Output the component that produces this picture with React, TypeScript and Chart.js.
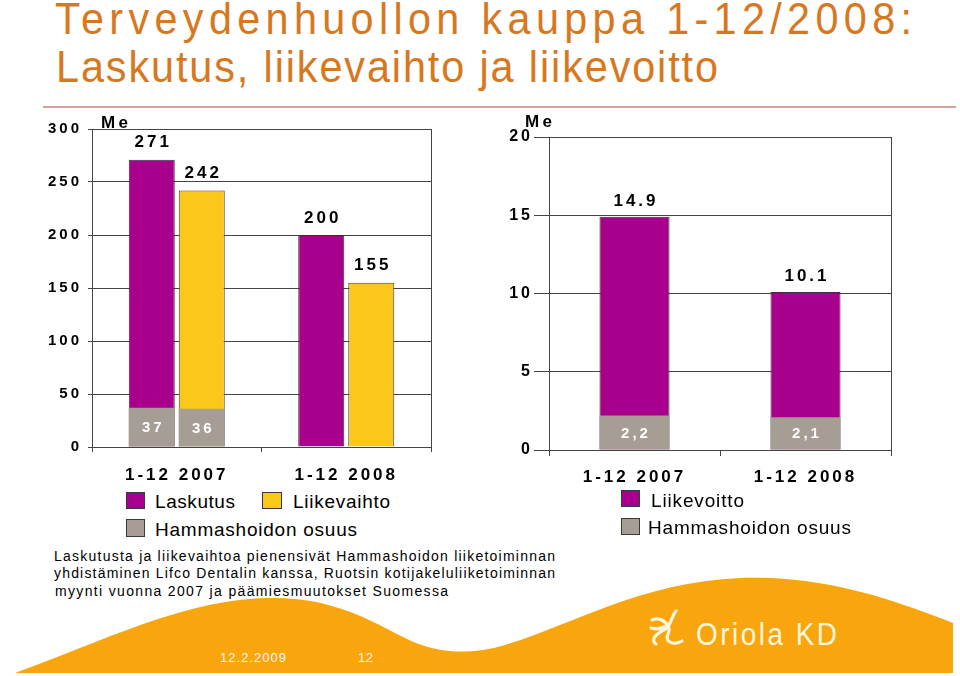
import React, { useEffect, useRef } from "react";
import { Chart, registerables } from "chart.js";

Chart.register(...registerables);

const FONT = '"Liberation Sans", Arial, Helvetica, sans-serif';
Chart.defaults.font.family = FONT;

// ---------- data ----------
const leftCategories = ["1-12 2007", "1-12 2008"];
const laskutus = [271, 200];
const liikevaihto = [242, 155];
const hammasLaskutus = [37, null];
const hammasLiikevaihto = [36, null];
const leftScale = { min: 0, max: 300, step: 50 };

const rightCategories = ["1-12 2007", "1-12 2008"];
const liikevoitto = [14.9, 10.1];
const hammasLiikevoitto = [2.2, 2.1];
const rightScale = { min: 0, max: 20, step: 5 };

// ---------- styles ----------
const MAGENTA = "#A8008D";
const YELLOW = "#FCC71B";
const GRAY = "#A69D94";
const LINE = "#444444";
const TITLE = "#D7781F";
const ORANGE = "#F9A50D";

let mctx: CanvasRenderingContext2D | null = null;
function measure(text: string, size: number, weight: number | string, family: string) {
  if (!mctx) mctx = document.createElement("canvas").getContext("2d");
  mctx!.font = `${weight} ${size}px ${family}`;
  return mctx!.measureText(text).width;
}

function Txt(props: {
  x: number;
  cy: number;
  w?: number;
  size: number;
  weight?: number;
  color?: string;
  family?: string;
  sx?: number;
  text: string;
}) {
  const { x, cy, w, size, weight = 400, color = "#000", family = FONT, sx = 1, text } = props;
  let ls = 0;
  if (w) {
    const nat = measure(text, size, weight, family);
    ls = (w / sx - nat) / Math.max(1, text.length - 1);
  }
  return (
    <div
      style={{
        position: "absolute",
        left: x,
        top: cy - size * 0.488,
        fontSize: size,
        lineHeight: `${size}px`,
        fontWeight: weight,
        fontFamily: family,
        color,
        letterSpacing: `${ls}px`,
        whiteSpace: "nowrap",
        transform: sx !== 1 ? `scaleX(${sx})` : undefined,
        transformOrigin: "0 0",
      }}
    >
      {text}
    </div>
  );
}

function Swatch({ x, y, w, h, color }: { x: number; y: number; w: number; h: number; color: string }) {
  return (
    <div
      style={{
        position: "absolute",
        left: x,
        top: y,
        width: w,
        height: h,
        background: color,
        border: "1px solid #3a3a3a",
        boxSizing: "border-box",
      }}
    />
  );
}

// ---------- plugins ----------
const framePlugin = {
  id: "frame",
  beforeDraw(chart: any) {
    chart.ctx.letterSpacing = "3px";
  },
  beforeDatasetsDraw(chart: any) {
    const { ctx, chartArea: a } = chart;
    ctx.save();
    ctx.strokeStyle = LINE;
    ctx.lineWidth = 1;
    const x = Math.round(a.right) + 0.5;
    ctx.beginPath();
    ctx.moveTo(x, a.top);
    ctx.lineTo(x, a.bottom);
    ctx.stroke();
    ctx.restore();
  },
};

const valueLabels = {
  id: "valueLabels",
  afterDatasetsDraw(chart: any) {
    const ctx = chart.ctx;
    chart.data.datasets.forEach((ds: any, i: number) => {
      const meta = chart.getDatasetMeta(i);
      meta.data.forEach((el: any, j: number) => {
        const v = ds.data[j];
        if (v == null) return;
        const { x, y, base } = el.getProps(["x", "y", "base"], true);
        const txt = ds.fmt ? ds.fmt(v) : String(v);
        ctx.save();
        ctx.letterSpacing = "3px";
        ctx.textAlign = "center";
        ctx.textBaseline = "middle";
        if (ds.labelInside) {
          ctx.fillStyle = "#ffffff";
          ctx.font = `bold 15px ${FONT}`;
          ctx.fillText(txt, x + 1.5, (y + base) / 2 + 1);
        } else {
          ctx.fillStyle = "#000000";
          ctx.font = `bold 17px ${FONT}`;
          ctx.fillText(txt, x + 1.5, y - ds.labelGap);
        }
        ctx.restore();
      });
    });
  },
};

function baseOptions(opts: {
  padTop: number;
  padRight: number;
  yWidth: number;
  xHeight: number;
  yTick: number;
  yPad: number;
  xTick: number;
  xPad: number;
  yFont: number;
  scale: { min: number; max: number; step: number };
  cat: number;
  bar: number;
}) {
  return {
    animation: false,
    responsive: false,
    maintainAspectRatio: false,
    layout: { padding: { top: opts.padTop, right: opts.padRight, left: 0, bottom: 0 } },
    datasets: { bar: { categoryPercentage: opts.cat, barPercentage: opts.bar } },
    plugins: { legend: { display: false }, tooltip: { enabled: false } },
    scales: {
      x: {
        stacked: true,
        grid: {
          drawOnChartArea: false,
          drawTicks: true,
          tickLength: opts.xTick,
          color: LINE,
          offset: true,
        },
        border: { color: LINE, width: 1 },
        ticks: { color: "#000", font: { size: 17, weight: "bold" }, padding: opts.xPad },
        afterFit(s: any) {
          s.height = opts.xHeight;
        },
      },
      y: {
        stacked: false,
        min: opts.scale.min,
        max: opts.scale.max,
        ticks: {
          stepSize: opts.scale.step,
          color: "#000",
          font: { size: opts.yFont, weight: "bold" },
          padding: opts.yPad,
        },
        grid: { color: LINE, tickLength: opts.yTick, lineWidth: 1 },
        border: { color: LINE, width: 1 },
        afterFit(s: any) {
          s.width = opts.yWidth;
        },
      },
    },
  };
}

function leftConfig(): any {
  return {
    type: "bar",
    data: {
      labels: leftCategories,
      datasets: [
        { label: "Hammashoidon osuus", data: hammasLaskutus, stack: "L", backgroundColor: GRAY, borderWidth: 0, labelInside: true },
        { label: "Hammashoidon osuus", data: hammasLiikevaihto, stack: "V", backgroundColor: GRAY, borderWidth: 0, labelInside: true },
        { label: "Laskutus", data: laskutus, stack: "L", backgroundColor: MAGENTA, borderColor: "#3d2a3a", borderWidth: 1, labelGap: 17 },
        { label: "Liikevaihto", data: liikevaihto, stack: "V", backgroundColor: YELLOW, borderColor: "#4a4030", borderWidth: 1, labelGap: 17 },
      ],
    },
    options: baseOptions({
      padTop: 19,
      padRight: 19,
      yWidth: 92,
      xHeight: 43,
      yTick: 4,
      yPad: 6,
      xTick: 5,
      xPad: 13,
      yFont: 15,
      scale: leftScale,
      cat: 0.59,
      bar: 0.92,
    }),
    plugins: [framePlugin, valueLabels],
  };
}

function rightConfig(): any {
  const comma = (v: number) => v.toFixed(1).replace(".", ",");
  const dot = (v: number) => v.toFixed(1);
  return {
    type: "bar",
    data: {
      labels: rightCategories,
      datasets: [
        { label: "Hammashoidon osuus", data: hammasLiikevoitto, stack: "P", backgroundColor: GRAY, borderWidth: 0, labelInside: true, fmt: comma },
        { label: "Liikevoitto", data: liikevoitto, stack: "P", backgroundColor: MAGENTA, borderColor: "#3d2a3a", borderWidth: 1, labelGap: 16, fmt: dot },
      ],
    },
    options: baseOptions({
      padTop: 27,
      padRight: 69,
      yWidth: 89,
      xHeight: 45,
      yTick: 15,
      yPad: 1,
      xTick: 6,
      xPad: 11,
      yFont: 16,
      scale: rightScale,
      cat: 0.45,
      bar: 0.91,
    }),
    plugins: [framePlugin, valueLabels],
  };
}

function ChartBox({ left, top, width, height, make }: { left: number; top: number; width: number; height: number; make: () => any }) {
  const ref = useRef<HTMLCanvasElement>(null);
  useEffect(() => {
    const chart = new Chart(ref.current!, make());
    return () => chart.destroy();
  }, []);
  return (
    <canvas
      ref={ref}
      width={width}
      height={height}
      style={{ position: "absolute", left, top, width, height }}
    />
  );
}

export default function App() {
  return (
    <div
      style={{
        position: "absolute",
        left: 0,
        top: 0,
        width: 960,
        height: 676,
        background: "#fff",
        overflow: "hidden",
        fontFamily: FONT,
      }}
    >
      {/* title */}
      <Txt x={55} cy={18} w={857} size={44} sx={0.94} color={TITLE} text="Terveydenhuollon kauppa 1-12/2008:" />
      <Txt x={56} cy={66} w={662} size={44} sx={0.94} color={TITLE} text="Laskutus, liikevaihto ja liikevoitto" />
      <div style={{ position: "absolute", left: 43, top: 106, width: 913, height: 2, background: "#D4A49C" }} />

      {/* footer wave */}
      <svg width={960} height={676} style={{ position: "absolute", left: 0, top: 0 }}>
        <path
          d="M15,673 C110,638 185,600 267,598 C330,596 370,620 405,638 C435,653 468,656 505,645 C570,626 640,582 740,578 C830,575 900,603 953,623 L953,673 Z"
          fill={ORANGE}
        />
        <g stroke="#FFF6DC" strokeWidth={3.2} fill="none" strokeLinecap="round">
          <path d="M652,620 C662,616 672,626 668,634 C664,642 674,646 682,641" />
          <path d="M676,611 C670,618 672,626 664,630 C656,634 650,640 656,644" />
          <path d="M651,628 C658,630 664,628 668,624" />
        </g>
      </svg>
      <Txt x={696} cy={634} w={141} size={31} sx={0.9} color="#FFF6DC" text="Oriola KD" />
      <Txt x={220} cy={657} w={66} size={13} color="#FFF8EA" text="12.2.2009" />
      <Txt x={358} cy={657} w={15} size={13} color="#FFF8EA" text="12" />

      {/* charts */}
      <ChartBox left={0} top={110} width={450} height={380} make={leftConfig} />
      <ChartBox left={460} top={110} width={500} height={385} make={rightConfig} />

      {/* unit labels */}
      <Txt x={101} cy={122} w={27} size={17} weight={700} text="Me" />
      <Txt x={525} cy={121} w={27} size={17} weight={700} text="Me" />

      {/* left legend */}
      <Swatch x={126} y={492} w={19} h={17} color={MAGENTA} />
      <Txt x={155} cy={501} w={80} size={19} text="Laskutus" />
      <Swatch x={262} y={492} w={20} h={17} color={YELLOW} />
      <Txt x={293} cy={501} w={97} size={19} text="Liikevaihto" />
      <Swatch x={126} y={519} w={19} h={18} color={GRAY} />
      <Txt x={155} cy={529} w={202} size={19} text="Hammashoidon osuus" />

      {/* right legend */}
      <Swatch x={621} y={490} w={19} h={17} color={MAGENTA} />
      <Txt x={651} cy={500} w={93} size={19} text="Liikevoitto" />
      <Swatch x={621} y={518} w={19} h={17} color={GRAY} />
      <Txt x={648} cy={527} w={203} size={19} text="Hammashoidon osuus" />

      {/* note */}
      <Txt x={54} cy={556} w={501} size={14} text="Laskutusta ja liikevaihtoa pienensivät Hammashoidon liiketoiminnan" />
      <Txt x={54} cy={573} w={501} size={14} text="yhdistäminen Lifco Dentalin kanssa, Ruotsin kotijakeluliiketoiminnan" />
      <Txt x={55} cy={591} w={393} size={14} text="myynti vuonna 2007 ja päämiesmuutokset Suomessa" />
    </div>
  );
}
